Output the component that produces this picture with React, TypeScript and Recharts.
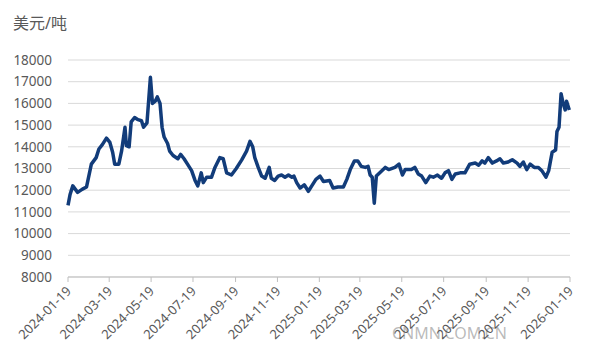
import React from "react";
import { LineChart, Line, XAxis, YAxis, CartesianGrid } from "recharts";

const dates: string[] = [
  "2024-01-19","2024-01-22","2024-01-26","2024-02-02","2024-02-09","2024-02-15","2024-02-22","2024-02-29",
  "2024-03-04","2024-03-09","2024-03-15","2024-03-20","2024-03-24","2024-03-27","2024-04-02","2024-04-06",
  "2024-04-11","2024-04-13","2024-04-17","2024-04-20","2024-04-25","2024-04-30","2024-05-05","2024-05-08",
  "2024-05-13","2024-05-18","2024-05-21","2024-05-25","2024-05-28","2024-06-01","2024-06-04","2024-06-07",
  "2024-06-12","2024-06-15","2024-06-20","2024-06-27","2024-07-01","2024-07-06","2024-07-11","2024-07-17",
  "2024-07-22","2024-07-26","2024-07-31","2024-08-03","2024-08-08","2024-08-15","2024-08-20","2024-08-27",
  "2024-09-01","2024-09-06","2024-09-13","2024-09-20","2024-09-28","2024-10-05","2024-10-10","2024-10-14",
  "2024-10-17","2024-10-22","2024-10-27","2024-11-01","2024-11-07","2024-11-10","2024-11-15","2024-11-20",
  "2024-11-25","2024-11-30","2024-12-05","2024-12-10","2024-12-13","2024-12-17","2024-12-22","2024-12-28",
  "2025-01-03","2025-01-08","2025-01-14","2025-01-20","2025-01-25","2025-02-03","2025-02-08","2025-02-15",
  "2025-02-23","2025-02-28","2025-03-05","2025-03-11","2025-03-16","2025-03-21","2025-03-27","2025-03-31",
  "2025-04-03","2025-04-06","2025-04-09","2025-04-12","2025-04-17","2025-04-25","2025-04-30","2025-05-09",
  "2025-05-15","2025-05-20","2025-05-24","2025-06-02","2025-06-07","2025-06-12","2025-06-17","2025-06-23",
  "2025-06-29","2025-07-04","2025-07-10","2025-07-16","2025-07-21","2025-07-26","2025-07-31","2025-08-05",
  "2025-08-12","2025-08-19","2025-08-26","2025-09-03","2025-09-08","2025-09-13","2025-09-17","2025-09-22",
  "2025-09-28","2025-10-04","2025-10-09","2025-10-14","2025-10-21","2025-10-27","2025-11-03","2025-11-07",
  "2025-11-12","2025-11-17","2025-11-22","2025-11-28","2025-12-04","2025-12-09","2025-12-15","2025-12-19",
  "2025-12-24","2025-12-29","2025-12-31","2026-01-03","2026-01-06","2026-01-09","2026-01-12","2026-01-14",
  "2026-01-18",
];

const prices: number[] = [
  11300, 11800, 12200, 11900, 12050, 12150, 13200, 13500,
  13900, 14100, 14400, 14200, 13750, 13200, 13200, 13800,
  14900, 14050, 14000, 15150, 15350, 15250, 15200, 14900,
  15100, 17200, 16000, 16100, 16300, 16000, 14900, 14450,
  14150, 13800, 13600, 13450, 13650, 13450, 13200, 12900,
  12450, 12200, 12800, 12350, 12600, 12600, 13050, 13500,
  13450, 12800, 12700, 13000, 13400, 13800, 14250, 14000,
  13500, 13050, 12650, 12550, 13050, 12550, 12450, 12650,
  12700, 12600, 12700, 12600, 12650, 12350, 12100, 12250,
  11950, 12200, 12500, 12650, 12400, 12450, 12100, 12150,
  12150, 12500, 12950, 13350, 13350, 13100, 13050, 13100,
  12700, 12600, 11400, 12650, 12800, 13050, 12950, 13050,
  13200, 12700, 12950, 12950, 13050, 12750, 12650, 12350,
  12650, 12600, 12700, 12550, 12800, 12900, 12500, 12750,
  12800, 12800, 13200, 13250, 13150, 13350, 13250, 13500,
  13250, 13350, 13450, 13250, 13300, 13400, 13250, 13100,
  13300, 12950, 13200, 13050, 13050, 12900, 12600, 12900,
  13750, 13850, 14700, 14900, 16450, 16000, 15700, 16100,
  15700,
];

const tickLabels: string[] = [
  "2024-01-19","2024-03-19","2024-05-19","2024-07-19","2024-09-19","2024-11-19","2025-01-19",
  "2025-03-19","2025-05-19","2025-07-19","2025-09-19","2025-11-19","2026-01-19",
];

const yTicks: number[] = [8000, 9000, 10000, 11000, 12000, 13000, 14000, 15000, 16000, 17000, 18000];

const data = dates.map((d, i) => ({ t: Date.parse(d), v: prices[i] }));
const xTicks = tickLabels.map((d) => Date.parse(d));
const fmt = (t: number) => new Date(t).toISOString().slice(0, 10);

const FONT = "'Noto Sans', 'Noto Sans CJK SC', sans-serif";

const XTick = (props: any) => {
  const { x, y, payload } = props;
  return (
    <text
      x={x + 4}
      y={y + 8}
      transform={`rotate(-45, ${x + 4}, ${y + 8})`}
      textAnchor="end"
      fontSize={13}
      fill="#595959"
      fontFamily={FONT}
    >
      {fmt(payload.value)}
    </text>
  );
};

export default function App() {
  return (
    <div style={{ position: "fixed", left: 0, top: 0, width: 600, height: 359, background: "#fff" }}>
      <LineChart width={600} height={359} data={data} margin={{ top: 60, right: 30, bottom: 0, left: 0 }}>
        <CartesianGrid vertical={false} stroke="#d9d9d9" />
        <XAxis
          dataKey="t"
          type="number"
          domain={[xTicks[0], xTicks[xTicks.length - 1]]}
          ticks={xTicks}
          interval={0}
          height={82}
          stroke="#bfbfbf"
          tickSize={5}
          tickMargin={2}
          tick={<XTick />}
        />
        <YAxis
          domain={[8000, 18000]}
          ticks={yTicks}
          interval={0}
          width={68}
          axisLine={false}
          tickLine={false}
          tickSize={6}
          tickMargin={10}
          tick={{ fontSize: 13.5, fill: "#595959", fontFamily: FONT }}
        />
        <Line
          type="linear"
          dataKey="v"
          stroke="#123c7a"
          strokeWidth={3.5}
          strokeLinejoin="round"
          dot={false}
          isAnimationActive={false}
        />
        <text x={13} y={29} fontSize={16} fill="#595959" fontFamily={FONT}>
          美元/吨
        </text>
        <text x={392} y={339} fontSize={16} fill="#8c8c8c" fillOpacity={0.6} fontFamily={FONT}>
          CNMN.COM.CN
        </text>
      </LineChart>
    </div>
  );
}
